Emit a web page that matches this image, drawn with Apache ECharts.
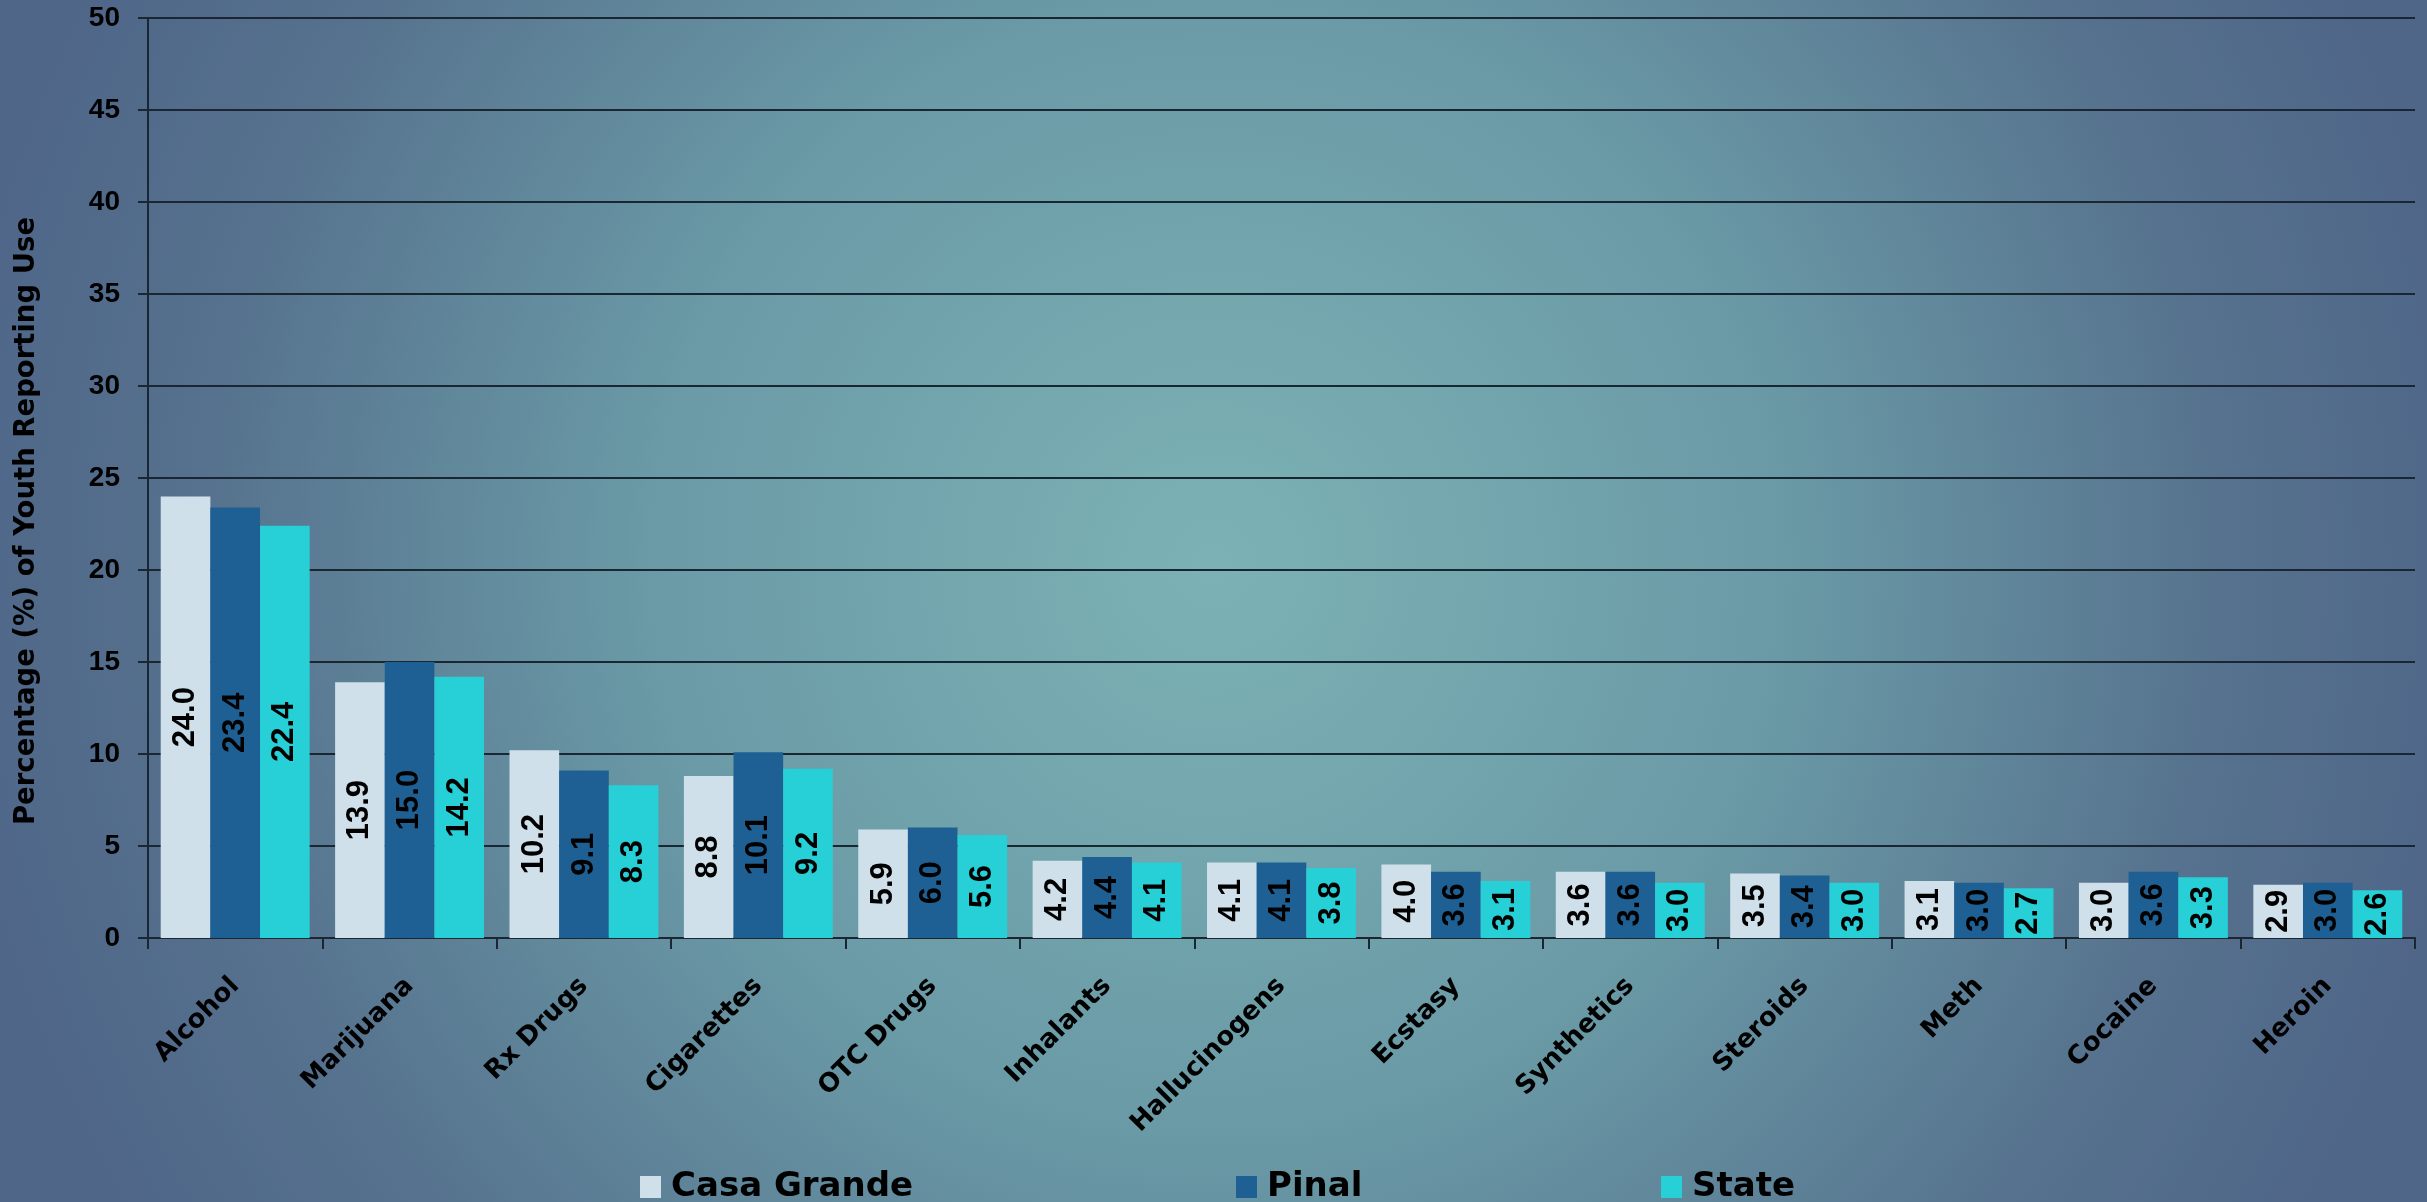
<!DOCTYPE html>
<html>
<head>
<meta charset="utf-8">
<script src="https://cdn.jsdelivr.net/npm/echarts@6/dist/echarts.min.js"></script>
<style>
html,body{margin:0;padding:0;width:2427px;height:1202px;overflow:hidden;}
#chart{width:2427px;height:1202px;}
</style>
</head>
<body>
<div id="chart"></div>
<script>
const categories = ['Alcohol','Marijuana','Rx Drugs','Cigarettes','OTC Drugs','Inhalants','Hallucinogens','Ecstasy','Synthetics','Steroids','Meth','Cocaine','Heroin'];
const casaGrande = [24.0,13.9,10.2,8.8,5.9,4.2,4.1,4.0,3.6,3.5,3.1,3.0,2.9];
const pinal = [23.4,15.0,9.1,10.1,6.0,4.4,4.1,3.6,3.6,3.4,3.0,3.6,3.0];
const state = [22.4,14.2,8.3,9.2,5.6,4.1,3.8,3.1,3.0,3.0,2.7,3.3,2.6];
const seriesNames = ['Casa Grande','Pinal','State'];
const yTicks = {min:0, max:50, interval:5};
const yTitle = 'Percentage (%) of Youth Reporting Use';

const colors = ['#d0e0ea','#1e6094','#27cfd6'];
const lineColor = '#1a2631';

const chart = echarts.init(document.getElementById('chart'));

function makeSeries(name, data, color){
  return {
    name: name,
    type: 'bar',
    data: data,
    barGap: '0%',
    barCategoryGap: '14.6%',
    itemStyle: {color: color},
    label: {
      show: true,
      position: 'inside',
      rotate: 90,
      formatter: p => p.value.toFixed(1),
      color: '#000',
      fontFamily: 'Liberation Sans',
      fontWeight: 'bold',
      fontSize: 31
    }
  };
}

function makeLegend(name, left){
  return {
    data: [name],
    left: left,
    top: 1165,
    itemWidth: 21,
    itemHeight: 22,
    icon: 'rect',
    textStyle: {
      color: '#000',
      fontFamily: 'DejaVu Sans',
      fontWeight: 'bold',
      fontSize: 34,
      padding: [0,0,0,5]
    }
  };
}

chart.setOption({
  animation: false,
  backgroundColor: {
    type: 'radial', x: 0.5, y: 0.47, r: 1.05,
    colorStops: [
      {offset: 0, color: '#7cb2b5'},
      {offset: 0.45, color: '#6a9aa6'},
      {offset: 0.8, color: '#56728e'},
      {offset: 1, color: '#4f6688'}
    ]
  },
  legend: [
    makeLegend(seriesNames[0], 635),
    makeLegend(seriesNames[1], 1231),
    makeLegend(seriesNames[2], 1656)
  ],
  grid: {left: 148, right: 12, top: 18, bottom: 264, containLabel: false},
  xAxis: {
    type: 'category',
    data: categories,
    axisLine: {show: true, lineStyle: {color: lineColor, width: 2}},
    axisTick: {show: true, length: 11, lineStyle: {color: lineColor, width: 2}},
    axisLabel: {
      rotate: 45,
      margin: 44,
      interval: 0,
      color: '#000',
      fontFamily: 'DejaVu Sans',
      fontWeight: 'bold',
      fontSize: 26
    },
    splitLine: {show: false}
  },
  yAxis: {
    type: 'value',
    min: yTicks.min, max: yTicks.max, interval: yTicks.interval,
    axisLine: {show: true, lineStyle: {color: lineColor, width: 2}},
    axisTick: {show: true, length: 10, lineStyle: {color: lineColor, width: 2}},
    axisLabel: {
      margin: 28,
      color: '#000',
      fontFamily: 'Liberation Sans',
      fontWeight: 'bold',
      fontSize: 28
    },
    splitLine: {show: true, lineStyle: {color: lineColor, width: 2}}
  },
  graphic: [{
    type: 'text',
    x: 27, y: 521,
    rotation: Math.PI / 2,
    style: {
      text: yTitle,
      fill: '#000',
      font: 'bold 27.5px "DejaVu Sans"',
      align: 'center',
      verticalAlign: 'middle'
    }
  }],
  series: [
    makeSeries(seriesNames[0], casaGrande, colors[0]),
    makeSeries(seriesNames[1], pinal, colors[1]),
    makeSeries(seriesNames[2], state, colors[2])
  ]
});
</script>
</body>
</html>
